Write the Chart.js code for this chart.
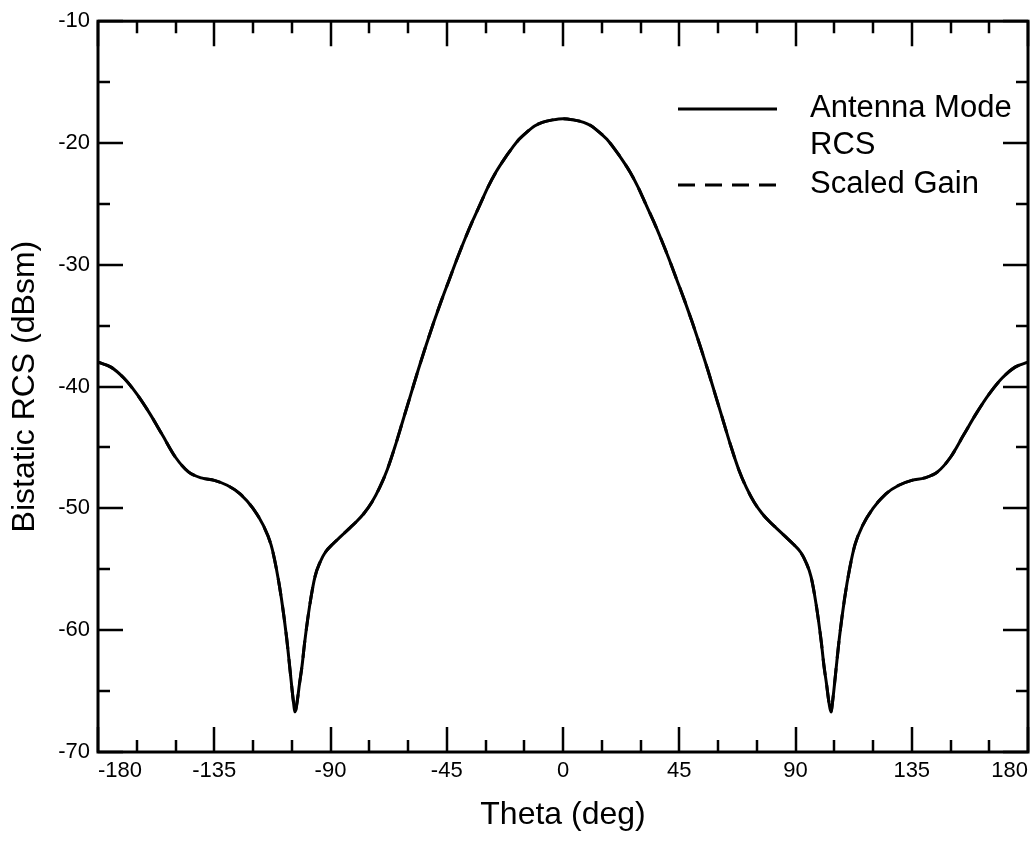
<!DOCTYPE html>
<html>
<head>
<meta charset="utf-8">
<script src="https://cdn.jsdelivr.net/npm/chart.js@4.4.1/dist/chart.umd.min.js"></script>
<style>
  html, body { margin: 0; padding: 0; background: #fff; }
  #wrap { width: 1035px; height: 842px; position: relative; }
</style>
</head>
<body>
<div id="wrap"><canvas id="chart"></canvas></div>
<script>
// theta (deg) and bistatic RCS (dBsm)
const theta = [
  -180, -175, -170, -165, -160, -155, -150, -145, -140, -135, -130, -125, -120, -116, -113, -111, -109, -107,
  -105.5, -104.5, -103.7, -103, -102, -101, -100, -98, -96, -94, -92, -89, -86, -83, -80, -77, -74, -71, -68,
  -65, -62, -59, -56, -53, -50, -47, -44, -41, -38, -35, -32, -29, -26, -23, -20, -17, -14, -11, -8, -4,
  0,
  4, 8, 11, 14, 17, 20, 23, 26, 29, 32, 35, 38, 41, 44, 47, 50, 53, 56, 59, 62, 65,
  68, 71, 74, 77, 80, 83, 86, 89, 92, 94, 96, 98, 100, 101, 102, 103, 103.7, 104.5, 105.5,
  107, 109, 111, 113, 116, 120, 125, 130, 135, 140, 145, 150, 155, 160, 165, 170, 175, 180
]
const antennaRcs = [
  -38.0, -38.4, -39.3, -40.6, -42.2, -44.0, -45.8, -47.0, -47.5, -47.7, -48.1, -48.8, -50.0, -51.4, -53.0, -54.9, -57.4, -60.6,
  -63.6, -65.6, -66.7, -66.0, -64.4, -62.9, -61.0, -57.9, -55.6, -54.4, -53.6, -52.9, -52.3, -51.7, -51.1, -50.4, -49.5, -48.3, -46.8,
  -44.9, -42.8, -40.7, -38.6, -36.6, -34.7, -32.9, -31.2, -29.5, -27.9, -26.4, -25.0, -23.6, -22.4, -21.4, -20.5, -19.7, -19.1, -18.6, -18.3, -18.1,
  -18.0,
  -18.1, -18.3, -18.6, -19.1, -19.7, -20.5, -21.4, -22.4, -23.6, -25.0, -26.4, -27.9, -29.5, -31.2, -32.9, -34.7, -36.6, -38.6, -40.7, -42.8, -44.9,
  -46.8, -48.3, -49.5, -50.4, -51.1, -51.7, -52.3, -52.9, -53.6, -54.4, -55.6, -57.9, -61.0, -62.9, -64.4, -66.0, -66.7, -65.6, -63.6,
  -60.6, -57.4, -54.9, -53.0, -51.4, -50.0, -48.8, -48.1, -47.7, -47.5, -47.0, -45.8, -44.0, -42.2, -40.6, -39.3, -38.4, -38.0
]
// the scaled gain curve lies exactly under the RCS curve in the picture
const scaledGain = antennaRcs.slice()

const xTicks = [-180, -135, -90, -45, 0, 45, 90, 135, 180]
const yTicks = [-70, -60, -50, -40, -30, -20, -10]
const xMinorStep = 15
const yMinorStep = 5

Chart.defaults.font.family = '"Liberation Sans", Arial, Helvetica, sans-serif'
Chart.defaults.color = '#000'

const framePlugin = {
  id: 'frameTicks',
  afterDraw(chart) {
    const { ctx, chartArea: a, scales: { x, y } } = chart
    ctx.save()
    ctx.strokeStyle = '#000'
    ctx.lineWidth = 2.5
    ctx.beginPath()
    for (let t = x.min; t <= x.max; t += xMinorStep) {
      const px = Math.round(x.getPixelForValue(t))
      const len = xTicks.includes(t) ? 25 : 12
      ctx.moveTo(px, a.bottom); ctx.lineTo(px, a.bottom - len)
      ctx.moveTo(px, a.top); ctx.lineTo(px, a.top + len)
    }
    for (let v = y.min; v <= y.max; v += yMinorStep) {
      const py = Math.round(y.getPixelForValue(v))
      const len = yTicks.includes(v) ? 25 : 12
      ctx.moveTo(a.left, py); ctx.lineTo(a.left + len, py)
      ctx.moveTo(a.right, py); ctx.lineTo(a.right - len, py)
    }
    ctx.stroke()
    ctx.lineWidth = 3
    ctx.strokeRect(a.left, a.top, a.right - a.left, a.bottom - a.top)

    // legend
    const ds = chart.data.datasets
    ctx.font = '31px "Liberation Sans", Arial, sans-serif'
    ctx.fillStyle = '#000'
    ctx.textBaseline = 'alphabetic'
    ctx.lineWidth = 3
    ctx.setLineDash(ds[0].borderDash || [])
    ctx.beginPath(); ctx.moveTo(678, 109); ctx.lineTo(777, 109); ctx.stroke()
    ctx.setLineDash(ds[1].borderDash)
    ctx.beginPath(); ctx.moveTo(678, 185); ctx.lineTo(777, 185); ctx.stroke()
    ctx.setLineDash([])
    ctx.fillText('Antenna Mode', 810, 117)
    ctx.fillText('RCS', 810, 154)
    ctx.fillText('Scaled Gain', 810, 193)
    ctx.restore()
  }
}

new Chart(document.getElementById('chart'), {
  type: 'line',
  data: {
    datasets: [
      {
        label: 'Antenna Mode RCS',
        data: theta.map((t, i) => ({ x: t, y: antennaRcs[i] })),
        borderColor: '#000',
        borderWidth: 3,
        pointRadius: 0,
        cubicInterpolationMode: 'monotone',
        order: 0
      },
      {
        label: 'Scaled Gain',
        data: theta.map((t, i) => ({ x: t, y: scaledGain[i] })),
        borderColor: '#000',
        borderWidth: 3,
        borderDash: [17, 10],
        pointRadius: 0,
        cubicInterpolationMode: 'monotone',
        order: 1
      }
    ]
  },
  options: {
    responsive: true,
    maintainAspectRatio: false,
    animation: false,
    layout: { padding: { left: 6, top: 18, right: 7, bottom: 8 } },
    plugins: { legend: { display: false }, tooltip: { enabled: false } },
    scales: {
      x: {
        type: 'linear',
        min: -180,
        max: 180,
        afterBuildTicks(scale) { scale.ticks = xTicks.map(v => ({ value: v })) },
        afterFit(scale) { scale.height = 82 },
        grid: { display: false, drawTicks: false },
        border: { display: false },
        ticks: { align: 'inner', padding: 6, font: { size: 22 }, color: '#000' },
        title: { display: true, text: 'Theta (deg)', font: { size: 32 }, color: '#000', padding: 0 }
      },
      y: {
        min: -70,
        max: -10,
        afterBuildTicks(scale) { scale.ticks = yTicks.map(v => ({ value: v })) },
        afterFit(scale) { scale.width = 92 },
        grid: { display: false, drawTicks: false },
        border: { display: false },
        ticks: { padding: 8, font: { size: 22 }, color: '#000' },
        title: { display: true, text: 'Bistatic RCS (dBsm)', font: { size: 32 }, color: '#000', padding: 0 }
      }
    }
  },
  plugins: [framePlugin]
})
</script>
</body>
</html>
